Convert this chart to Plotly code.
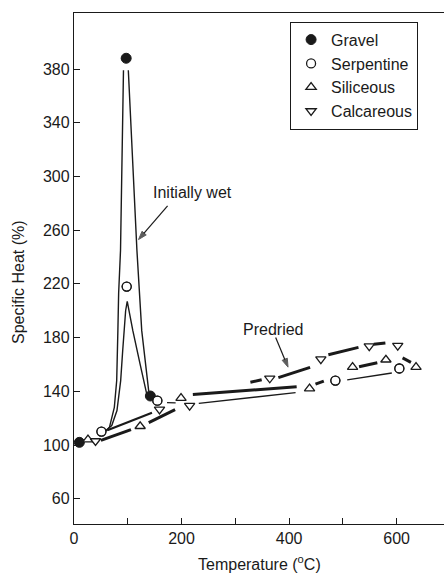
import plotly.graph_objects as go

# Measured specific heat (% of room-temperature value) of concretes by aggregate type
gravel_T = [10, 97, 142]
gravel_C = [102, 388, 136.5]

serp_T = [51, 98, 155, 486, 605]
serp_C = [110, 218, 133, 148, 157]

sil_T = [26, 123, 199, 438, 518, 580, 636]
sil_C = [104, 114, 135, 142, 158, 163.5, 158]

calc_T = [40, 159, 215, 364, 459, 549, 602]
calc_C = [103, 126.6, 129.3, 149.7, 164, 173.6, 174]

# Hand-faired curves: initially wet specimens (thin lines)
gravel_wet_T = [60, 66, 75, 79.4, 81.6, 83, 86.5, 92, None, 101, 117, 126, 139]
gravel_wet_C = [110.5, 113.3, 128.1, 148, 185.2, 213, 245, 379, None, 379, 245, 185, 140]

serp_wet_T = [58, 70.2, 79.9, 86.8, 90.5, 92.7, 96, 99, 109.5, 123, 136]
serp_wet_C = [110.5, 114.5, 125.7, 148, 170, 185, 200, 207, 185, 160, 136.6]

# Predried curves, drawn as broken segments between the symbols
pre_thick_T = [50, 106, None, 139, 188, None, 221, 414, None, 328, 349, None,
               380, 439, None, 449, 464.5, None, 473, 529, None, 530, 564, None,
               557.5, 579, None, 611, 626.5]
pre_thick_C = [103.5, 111.5, None, 116.7, 126.3, None, 137.6, 143.4, None, 146.8, 148.6, None,
               150.2, 157.8, None, 145.3, 147.6, None, 167.2, 172.7, None, 158.3, 161.2, None,
               175, 176, None, 164.9, 161.6]

pre_mid_T = [62, 145]
pre_mid_C = [111, 124]

pre_thin_T = [173, 189, None, 232, 412, None, 508, 591]
pre_thin_C = [131.6, 131.4, None, 131, 139, None, 148.5, 153.6]

x_ticks = [0, 200, 400, 600]
y_ticks = [60, 100, 140, 180, 220, 260, 300, 340, 380]

INK = "#1a1a1a"
FONT = "Liberation Sans, Arial, sans-serif"

fig = go.Figure()

def add_line(xs, ys, width):
    fig.add_trace(go.Scatter(x=xs, y=ys, mode="lines", showlegend=False,
                             hoverinfo="skip", connectgaps=False,
                             line=dict(color=INK, width=width)))

def add_pointer(xs, ys):
    # leader line from a label to a curve, with an arrowhead at its end
    fig.add_trace(go.Scatter(x=xs, y=ys, mode="lines+markers", showlegend=False,
                             hoverinfo="skip", line=dict(color=INK, width=1.2),
                             marker=dict(symbol="arrow", size=[0, 9], color=INK,
                                         angleref="previous",
                                         line=dict(color=INK, width=1))))

add_line(gravel_wet_T, gravel_wet_C, 1.4)
add_line(serp_wet_T, serp_wet_C, 1.4)
add_line(pre_thick_T, pre_thick_C, 3.0)
add_line(pre_mid_T, pre_mid_C, 2.2)
add_line(pre_thin_T, pre_thin_C, 1.4)

add_pointer([174, 120], [278, 253])
add_pointer([375, 398], [180, 158])

fig.add_trace(go.Scatter(x=gravel_T, y=gravel_C, mode="markers", name="Gravel",
                         marker=dict(symbol="circle", size=10, color=INK,
                                     line=dict(color=INK, width=1))))
fig.add_trace(go.Scatter(x=serp_T, y=serp_C, mode="markers", name="Serpentine",
                         marker=dict(symbol="circle-open", size=9, color=INK,
                                     line=dict(color=INK, width=1.3))))
fig.add_trace(go.Scatter(x=serp_T, y=serp_C, mode="markers", showlegend=False,
                         hoverinfo="skip",
                         marker=dict(symbol="circle", size=8, color="white")))
fig.add_trace(go.Scatter(x=sil_T, y=sil_C, mode="markers", name="Siliceous",
                         marker=dict(symbol="triangle-up", size=9, color="white",
                                     line=dict(color=INK, width=1.3))))
fig.add_trace(go.Scatter(x=calc_T, y=calc_C, mode="markers", name="Calcareous",
                         marker=dict(symbol="triangle-down", size=9, color="white",
                                     line=dict(color=INK, width=1.3))))

# Re-draw the open circle on top of its white fill
fig.add_trace(go.Scatter(x=serp_T, y=serp_C, mode="markers", showlegend=False,
                         hoverinfo="skip",
                         marker=dict(symbol="circle-open", size=9, color=INK,
                                     line=dict(color=INK, width=1.3))))

axis_font = dict(family=FONT, size=16, color=INK)

fig.update_xaxes(range=[0, 688], tickvals=x_ticks,
                 ticks="inside", ticklen=6, tickwidth=1.2, tickcolor=INK,
                 minor=dict(dtick=100, tick0=0, ticks="inside", ticklen=6,
                            tickwidth=1.2, tickcolor=INK, showgrid=False),
                 showline=True, linecolor=INK, linewidth=1.3, mirror=True,
                 showgrid=False, zeroline=False, tickfont=axis_font)
fig.update_yaxes(range=[41.2, 421.7], tickvals=y_ticks,
                 ticks="inside", ticklen=6, tickwidth=1.2, tickcolor=INK,
                 showline=True, linecolor=INK, linewidth=1.3, mirror=False,
                 showgrid=False, zeroline=False, tickfont=axis_font)

annots = [
    dict(text="Initially wet", x=221, y=288, xref="x", yref="y", showarrow=False,
         font=axis_font),
    dict(text="Predried", x=370, y=186.3, xref="x", yref="y", showarrow=False,
         font=axis_font),
    dict(text="Temperature (<sup>o</sup>C)", x=0.5, y=-0.0757, xref="paper",
         yref="paper", xanchor="center", yanchor="middle", showarrow=False,
         font=axis_font),
    dict(text="Specific Heat (%)", x=-0.15, y=0.4726, xref="paper", yref="paper",
         xanchor="center", yanchor="middle", textangle=-90, showarrow=False,
         font=axis_font),
]

fig.update_layout(
    width=444, height=574,
    margin=dict(l=74, r=0, t=13, b=50),
    paper_bgcolor="white", plot_bgcolor="white",
    font=dict(family=FONT, size=16, color=INK),
    annotations=annots,
    legend=dict(x=0.584, y=0.983, xanchor="left", yanchor="top",
                bordercolor=INK, borderwidth=1, bgcolor="white",
                font=dict(family=FONT, size=16, color=INK),
                itemwidth=30, tracegroupgap=0),
)

fig.write_html("out.html")
